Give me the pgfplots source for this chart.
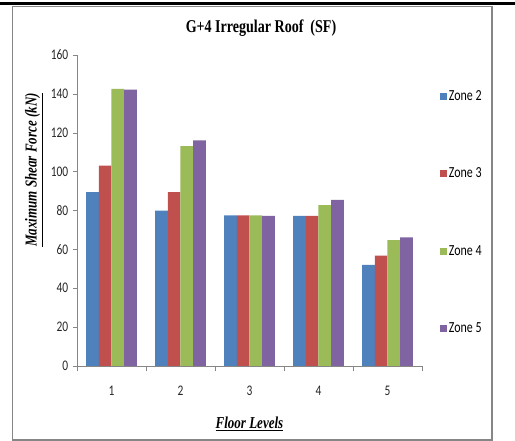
\documentclass[border=0pt]{standalone}
\usepackage{pgfplots}
\pgfplotsset{compat=1.18}
\usepackage{fontspec}
\setmainfont{Carlito}
\newfontfamily\narrow[FakeStretch=0.78]{Carlito}
\newfontfamily\tnr[FakeStretch=0.78]{Liberation Serif}
\definecolor{zb}{HTML}{4F81BD}
\definecolor{zr}{HTML}{C0504D}
\definecolor{zg}{HTML}{9BBB59}
\definecolor{zp}{HTML}{8064A2}
\definecolor{axgray}{HTML}{868686}
\begin{document}
\begin{tikzpicture}
\useasboundingbox (0,0) rectangle (386.25pt,330.75pt);
\draw[line width=2.2pt,black] (0,328pt) -- (386.25pt,328pt);
\draw[axgray,line width=0.9pt] (9.4pt,326pt) rectangle (369pt,0.8pt);
\begin{axis}[
  at={(57.75pt,56.25pt)}, anchor=origin,
  scale only axis, width=258.75pt, height=233.25pt,
  xmin=0.5, xmax=5.5, ymin=0, ymax=160,
  ybar=0pt, bar width=9.5pt,
  axis lines*=left,
  axis line style={axgray},
  xtick={1,2,3,4,5},
  minor xtick={0.5,1.5,2.5,3.5,4.5,5.5},
  major x tick style={draw=none},
  minor tick length=4pt,
  major tick length=3pt,
  tick align=outside,
  tick style={axgray},
  ytick={0,20,...,160},
  ticklabel style={font=\narrow\fontsize{11}{12}\selectfont, text=black!85},
  xticklabel style={yshift=-8.5pt},
  /pgf/number format/assume math mode=true,
  legend style={draw=none, fill=none, at={(1.052,0.893)}, anchor=north west,
    font=\narrow\fontsize{11.5}{12}\selectfont, row sep=46.6pt, inner sep=0pt,
    nodes={inner sep=1.3pt}},
  legend cell align=left,
  legend image code/.code={\fill[#1,draw=none] (0pt,-2.6pt) rectangle (5.25pt,2.6pt);},
]
\addplot[fill=zb, draw=none] coordinates {(1,89.4) (2,79.9) (3,77.5) (4,77.2) (5,52.0)};
\addplot[fill=zr, draw=none] coordinates {(1,103.1) (2,89.4) (3,77.5) (4,77.2) (5,56.8)};
\addplot[fill=zg, draw=none] coordinates {(1,142.6) (2,113.1) (3,77.5) (4,82.7) (5,64.7)};
\addplot[fill=zp, draw=none] coordinates {(1,142.2) (2,116.1) (3,77.2) (4,85.4) (5,66.2)};
\legend{Zone 2, Zone 3, Zone 4, Zone 5}
\end{axis}
\node at (195.75pt,310pt) {\tnr\bfseries\fontsize{13.5}{15}\selectfont G+4 Irregular Roof\ \ (SF)};
\node[rotate=90] at (25.5pt,203.25pt) {\tnr\fontsize{12.5}{13}\selectfont\underline{\textbf{\textit{Maximum Shear Force (kN)}}}};
\node at (187.1pt,12.75pt) {\tnr\fontsize{12.5}{13}\selectfont\underline{\textbf{\textit{Floor Levels}}}};
\end{tikzpicture}
\end{document}
